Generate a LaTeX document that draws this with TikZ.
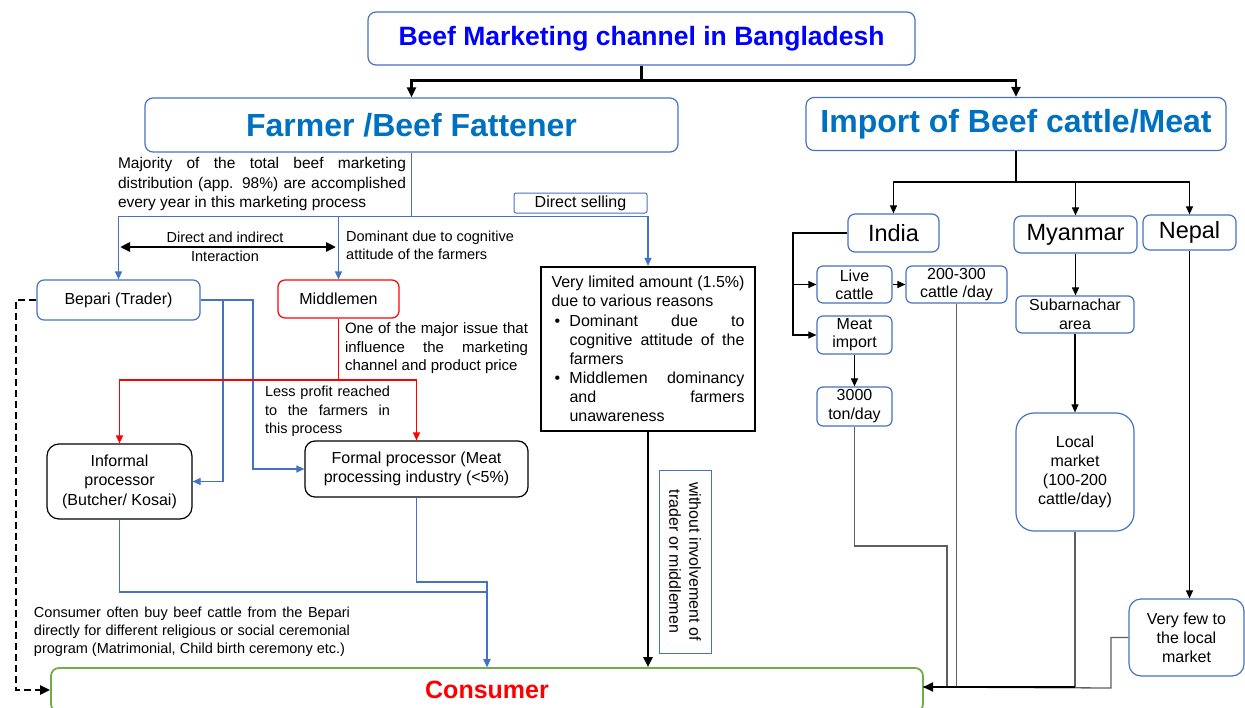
\documentclass[tikz,border=0pt]{standalone}
\usepackage{fontspec}
\setmainfont{Liberation Sans}
\usetikzlibrary{arrows.meta,calc}
\newcommand\myfs[2]{\fontsize{#1}{#2}\selectfont}
\newcommand\jstretch[2]{\makebox[#1][s]{#2}}
\definecolor{bordblue}{RGB}{68,114,196}
\definecolor{titleblue}{RGB}{0,0,255}
\definecolor{headblue}{RGB}{0,112,192}
\definecolor{cred}{RGB}{255,0,0}
\definecolor{cgreen}{RGB}{112,173,71}
\definecolor{lgray}{RGB}{95,95,95}
\tikzset{
  bbox/.style={draw=bordblue, line width=1.2pt, rounded corners=6pt, inner sep=0pt, align=center, font=\myfs{16}{19}},
  kbox/.style={draw=black, line width=1.2pt, rounded corners=10pt, inner sep=0pt, align=center, font=\myfs{16}{19.5}},
  txt/.style={inner sep=0pt, align=left},
  thickblk/.style={draw=black, line width=2.6pt, >={Triangle[length=10pt,width=9pt]}},
  bl/.style={draw=bordblue, line width=1.2pt, >={Triangle[length=8pt,width=7pt]}},
  rl/.style={draw=cred, line width=1.4pt, >={Triangle[length=8pt,width=7pt]}},
  tb/.style={draw=black, line width=1.1pt, >={Triangle[length=8pt,width=7pt]}},
  gl/.style={draw=lgray, line width=1.3pt},
}
\begin{document}
\begin{tikzpicture}[x=1pt,y=-1pt]
\useasboundingbox (0,0) rectangle (1245,707);
\clip (0,0) rectangle (1245,707);

% headers
\node[bbox, rounded corners=8pt, minimum width=547pt, minimum height=53pt, font=\myfs{26.5}{30}\bfseries, text=titleblue] (title) at (641.5,38.5) {Beef Marketing channel in Bangladesh};
\node[bbox, rounded corners=8pt, minimum width=533pt, minimum height=54pt, font=\myfs{32}{36}\bfseries, text=headblue] (farmer) at (411.5,125) {Farmer /Beef Fattener};
\node[bbox, rounded corners=8pt, minimum width=420pt, minimum height=53pt, font=\myfs{32}{36}\bfseries, text=headblue] (import) at (1016,124) {Import of Beef cattle/Meat};

% left boxes
\node[bbox, rounded corners=2pt, line width=1pt, minimum width=133pt, minimum height=20pt] (dsell) at (580.5,203) {Direct selling};
\node[bbox, rounded corners=7pt, minimum width=163pt, minimum height=40pt] (bepari) at (118.5,300) {Bepari (Trader)};
\node[bbox, draw=cred, rounded corners=7pt, minimum width=121pt, minimum height=38pt] (middlemen) at (338.5,299) {Middlemen};
\node[draw=black, line width=2.2pt, inner sep=0pt, minimum width=214pt, minimum height=164pt] (limited) at (648,349) {\begin{minipage}{193pt}\myfs{16}{19.1}%
\jstretch{193pt}{Very limited amount (1.5\%)}\\
due to various reasons\\
\hspace*{3pt}\makebox[15pt][l]{\textbullet}\jstretch{175pt}{Dominant due to}\\
\hspace*{18pt}\jstretch{175pt}{cognitive attitude of the}\\
\hspace*{18pt}farmers\\
\hspace*{3pt}\makebox[15pt][l]{\textbullet}\jstretch{175pt}{Middlemen dominancy}\\
\hspace*{18pt}\jstretch{175pt}{and farmers}\\
\hspace*{18pt}unawareness
\end{minipage}};
\node[bbox, rounded corners=0pt, line width=1pt, rotate=-90, minimum width=183pt, minimum height=52pt, font=\myfs{16}{20}] (without) at (685,561.5) {without involvement of\\trader or middlemen};
\node[kbox, rounded corners=12pt, minimum width=145pt, minimum height=75pt] (informal) at (119.5,481.5) {Informal\\processor\\(Butcher/ Kosai)};
\node[kbox, minimum width=223pt, minimum height=56pt] (formal) at (416.5,469) {Formal processor (Meat\\processing industry (<5\%)};
\node[draw=cgreen, line width=1.8pt, rounded corners=8pt, inner sep=0pt, minimum width=872pt, minimum height=44pt, font=\myfs{25}{28}\bfseries, text=cred] (consumer) at (487,690) {Consumer};

% free texts
\node[txt, font=\myfs{15.5}{19.5}] (majority) at (262,184) {\jstretch{288pt}{Majority of the total beef marketing}\\\jstretch{288pt}{distribution (app. 98\%) are accomplished}\\every year in this marketing process};
\node[txt, align=center, font=\myfs{14.5}{19}] (dirind) at (225,246.5) {Direct and indirect\\Interaction};
\node[txt, anchor=west, font=\myfs{14.5}{18}] (dominant) at (346,245) {Dominant due to cognitive\\attitude of the farmers};
\node[txt, font=\myfs{15}{18.5}] (oneof) at (436.5,348.5) {\jstretch{183pt}{One of the major issue that}\\\jstretch{183pt}{influence the marketing}\\channel and product price};
\node[txt, font=\myfs{14.5}{18.5}] (lessprofit) at (327.5,411.5) {\jstretch{125pt}{Less profit reached}\\\jstretch{125pt}{to the farmers in}\\this process};
\node[txt, font=\myfs{14.5}{18}] (cnote) at (192,632) {\jstretch{316pt}{Consumer often buy beef cattle from the Bepari}\\\jstretch{316pt}{directly for different religious or social ceremonial}\\program (Matrimonial, Child birth ceremony etc.)};

% right boxes
\node[bbox, rounded corners=7pt, minimum width=91pt, minimum height=38pt, font=\myfs{23.5}{26}] (india) at (893.5,233) {India};
\node[bbox, rounded corners=7pt, minimum width=123pt, minimum height=37pt, font=\myfs{23.5}{26}] (myanmar) at (1075.5,234.5) {Myanmar};
\node[bbox, rounded corners=7pt, minimum width=93pt, minimum height=35pt, font=\myfs{23.5}{26}] (nepal) at (1189.5,232.5) {Nepal};
\node[bbox, minimum width=75pt, minimum height=37pt, font=\myfs{16}{18}] (live) at (854.5,284.5) {Live\\cattle};
\node[bbox, minimum width=101pt, minimum height=37pt, font=\myfs{16}{18}] (c200) at (956.5,284.5) {200-300\\cattle /day};
\node[bbox, minimum width=75pt, minimum height=38pt, font=\myfs{16}{18}] (meat) at (854.5,335) {Meat\\import};
\node[bbox, minimum width=75pt, minimum height=39pt, font=\myfs{16}{19}] (t3000) at (854.5,406.5) {3000\\ton/day};
\node[bbox, minimum width=118pt, minimum height=37pt, font=\myfs{16}{19}] (sub) at (1075,314.5) {Subarnachar\\area};
\node[bbox, rounded corners=18pt, minimum width=118pt, minimum height=118pt, font=\myfs{16}{19}] (local) at (1075,472) {Local\\market\\(100-200\\cattle/day)};
\node[bbox, rounded corners=12pt, minimum width=115pt, minimum height=77pt, font=\myfs{16}{19}] (veryfew) at (1186.5,637.5) {Very few to\\the local\\market};

% top connectors
\draw[thickblk] (title.south) -- ++(0,15) coordinate (tj);
\draw[thickblk,->] (tj) -| (farmer.north);
\draw[thickblk,->] (tj) -| (import.north);

% farmer branches
\draw[bl] (farmer.south) -- ++(0,64) coordinate (fj);
\draw[bl,->] (fj) -| (bepari.north);
\draw[bl,->] (fj) -| (middlemen.north);
\draw[bl,->] (fj) -| (limited.north);

\coordinate (da1) at (120,247);
\coordinate (da2) at (336,247);
\draw[thickblk,<->] (da1) -- (da2);

% bepari to processors
\draw[bl,->] (bepari.east) -- (223,300) -- (223,481.5) -- (informal.east);
\draw[bl,->] (bepari.east) -- (253,300) -- (253,469) -- (formal.west);

% middlemen to processors
\draw[rl] (middlemen.south) -- (338.5,380) coordinate (mj);
\draw[rl,->] (mj) -| (informal.north);
\draw[rl,->] (mj) -| (formal.north);

% processors to consumer
\draw[bl,->] (informal.south) -- (119.5,592) -- (487,592) -- (consumer.north);
\draw[bl,->] (formal.south) -- (416.5,582) -- (487,582) -- (consumer.north);

% direct selling
\draw[thickblk,->] (limited.south) -- (limited.south |- consumer.north);

% dashed bepari to consumer
\draw[thickblk,line width=2.8pt,dash pattern=on 7pt off 4pt,->] (bepari.west) -- (16,300) |- (consumer.west);

% import branches
\draw[tb] (import.south) -- (1016,182) coordinate (ij);
\draw[tb,->] (ij) -| (india.north);
\draw[tb,->] (ij) -| (myanmar.north);
\draw[tb,->] (ij) -| (nepal.north);
\draw[tb,->] (india.west) -- (793,233) |- (meat.west);
\coordinate (lj) at (793,284.5);
\draw[tb,->] (lj) -- (live.west);
\draw[tb,->] (live.east) -- (c200.west);
\draw[tb,->] (meat.south) -- (t3000.north);
\draw[tb,->] (myanmar.south) -- (myanmar.south |- sub.north);
\draw[tb,->] (sub.south) -- (local.north);
\draw[tb,->] (nepal.south) -- (nepal.south |- veryfew.north);

% imports to consumer
\coordinate (cin) at (923,687);
\draw[gl] (t3000.south) -- (854.5,546) -- (947,546) -- (947,687) -- (cin);
\draw[gl] (c200.south) -- (956.5,687) -- (cin);
\draw[gl] (local.south) -- (1075,687) -- (cin);
\draw[gl] (veryfew.west) -- (1111,637.5) -- (1111,688) -- (cin);
\draw[draw=black, line width=2.2pt, >={Triangle[length=10pt,width=9pt]}, ->] (local.south |- cin) -- (cin);
\end{tikzpicture}
\end{document}
